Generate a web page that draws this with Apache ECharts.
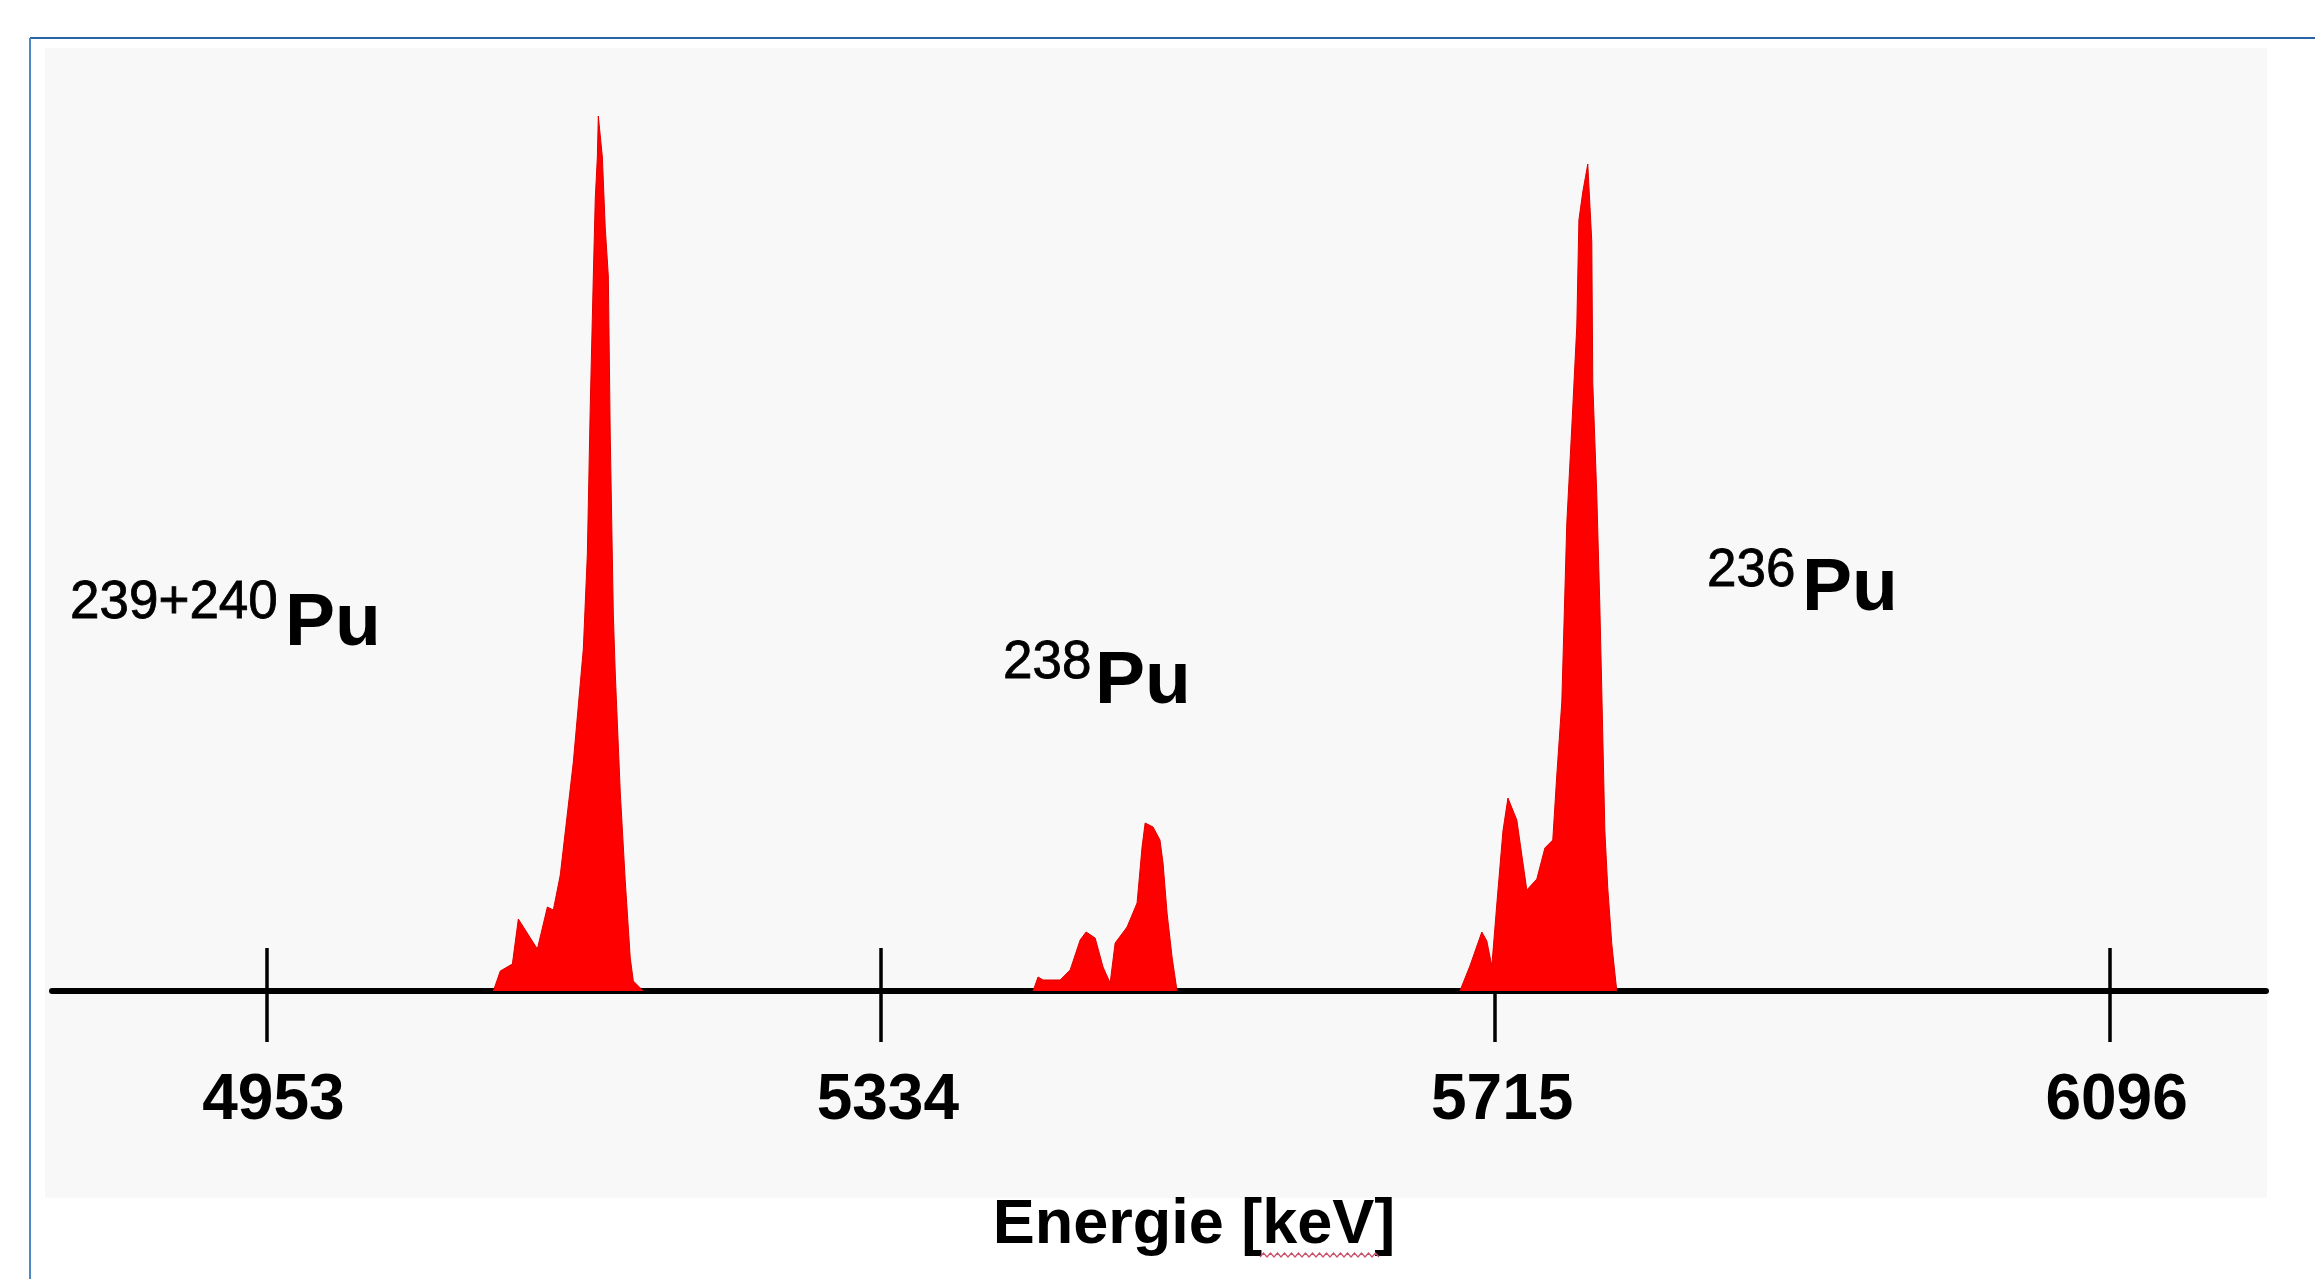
<!DOCTYPE html>
<html>
<head>
<meta charset="utf-8">
<title>Pu alpha spectrum</title>
<script src="https://cdn.jsdelivr.net/npm/echarts/dist/echarts.min.js"></script>
<style>
  html, body { margin: 0; padding: 0; background: #fff; }
  #chart { width: 2315px; height: 1279px; }
</style>
</head>
<body>
<div id="chart"></div>
<script>
// energy ticks on the axis (keV)
var tickValues = [4953, 5334, 5715, 6096]

// 239+240Pu peak
var pu239Energy = [5093.7, 5098.0, 5105.5, 5109.2, 5121.0, 5127.2, 5130.9, 5135.2, 5143.3, 5149.5, 5152.0, 5153.8, 5155.7, 5156.9, 5158.2, 5158.8, 5161.3, 5163.1, 5165.0, 5166.2, 5168.1, 5169.3, 5172.4, 5175.5, 5178.6, 5180.5, 5186.7]
var pu239Counts = [0, 20, 27, 72, 42, 84, 81, 116, 229, 342, 437, 585, 715, 792, 834, 875, 834, 763, 715, 555, 377, 318, 199, 110, 33, 10, 0]

// 238Pu peak
var pu238Energy = [5428.4, 5431.5, 5434.6, 5445.2, 5451.4, 5457.6, 5461.3, 5466.9, 5471.8, 5476.2, 5479.3, 5486.7, 5492.9, 5496.0, 5497.9, 5502.8, 5507.1, 5509.0, 5511.5, 5514.6, 5517.7]
var pu238Counts = [0, 14, 11, 11, 21, 51, 59, 53, 24, 8, 48, 64, 88, 144, 168, 164, 151, 128, 78, 34, 0]

// 236Pu peak (tracer)
var pu236Energy = [5693.1, 5699.3, 5706.7, 5709.8, 5712.9, 5716.0, 5719.8, 5722.9, 5728.4, 5734.6, 5740.8, 5745.8, 5750.7, 5753.2, 5756.3, 5759.4, 5762.5, 5765.6, 5766.9, 5769.3, 5772.4, 5774.9, 5775.5, 5778.0, 5779.9, 5781.1, 5783.0, 5784.8, 5787.3, 5790.4]
var pu236Counts = [0, 25, 59, 50, 25, 87, 160, 193, 171, 101, 112, 143, 151, 216, 289, 468, 564, 665, 771, 799, 827, 749, 608, 496, 384, 300, 160, 103, 47, 0]

var FONT = '"Liberation Sans", Arial, Helvetica, sans-serif'

function pairs(xs, ys) {
    return xs.map(function (x, i) { return [x, ys[i]] })
}

function peakSeries(name, xs, ys) {
    return {
        name: name,
        type: 'line',
        symbol: 'none',
        smooth: false,
        z: 3,
        lineStyle: { color: '#e00000', width: 1 },
        areaStyle: { color: '#ff0000', opacity: 1 },
        data: pairs(xs, ys)
    }
}

// isotope label: superscript mass number + "Pu"
function isoLabel(mass, x, y, puX, puY) {
    return [
        {
            type: 'text', x: x, y: y, z: 100,
            style: { text: mass, font: 'normal 53px ' + FONT, fill: '#000', stroke: '#000', lineWidth: 0.8, textAlign: 'left', textVerticalAlign: 'middle' }
        },
        {
            type: 'text', x: puX, y: puY, z: 100,
            style: { text: 'Pu', font: 'bold 75px ' + FONT, fill: '#000', textAlign: 'left', textVerticalAlign: 'middle' }
        }
    ]
}

// red spell-check squiggle under "keV"
var squiggle = []
for (var sx = 1260; sx <= 1382; sx += 3.5) {
    squiggle.push([sx, (Math.round((sx - 1260) / 3.5) % 2) ? 1253 : 1257])
}

var chart = echarts.init(document.getElementById('chart'))

chart.setOption({
    backgroundColor: '#ffffff',
    animation: false,
    grid: {
        left: 52,
        right: 49,
        top: 91,
        bottom: 288,
        outerBoundsMode: 'none'
    },
    xAxis: [
        {
            type: 'value',
            min: 4820,
            max: 6193,
            position: 'bottom',
            splitLine: { show: false },
            axisLine: { show: true, onZero: false, lineStyle: { color: '#000', width: 6 } },
            axisTick: { show: true, customValues: tickValues, length: 51, lineStyle: { color: '#000', width: 3.5 } },
            axisLabel: {
                show: true,
                customValues: tickValues,
                margin: 78,
                padding: [0, 0, 0, 14],
                fontFamily: FONT,
                fontSize: 64,
                fontWeight: 'bold',
                color: '#000',
                formatter: function (v) { return String(v) }
            }
        },
        {
            // second copy of the scale only to draw the upper half of the ticks
            type: 'value',
            min: 4820,
            max: 6193,
            position: 'bottom',
            splitLine: { show: false },
            axisLine: { show: false },
            axisTick: { show: true, inside: true, customValues: tickValues, length: 43, lineStyle: { color: '#000', width: 3.5 } },
            axisLabel: { show: false }
        }
    ],
    yAxis: {
        type: 'value',
        min: 0,
        max: 900,
        show: false,
        splitLine: { show: false }
    },
    series: [
        peakSeries('239+240Pu', pu239Energy, pu239Counts),
        peakSeries('238Pu', pu238Energy, pu238Counts),
        peakSeries('236Pu', pu236Energy, pu236Counts)
    ],
    graphic: [
        // grey plot panel
        { type: 'rect', z: -100, shape: { x: 45, y: 48, width: 2222, height: 1150 }, style: { fill: '#f8f8f8' } },
        // blue frame
        { type: 'line', z: -90, shape: { x1: 30, y1: 38, x2: 2315, y2: 38 }, style: { stroke: '#2a62a6', lineWidth: 2 } },
        { type: 'line', z: -90, shape: { x1: 30, y1: 38, x2: 30, y2: 1279 }, style: { stroke: '#4f88c6', lineWidth: 2 } },
        // axis title
        {
            type: 'text', x: 1194, y: 1226, z: 100,
            style: { text: 'Energie [keV]', font: 'bold 63px ' + FONT, fill: '#000', textAlign: 'center', textVerticalAlign: 'middle' }
        },
        { type: 'polyline', z: 100, shape: { points: squiggle }, style: { stroke: '#c8506a', lineWidth: 1.2, fill: null } }
    ]
        .concat(isoLabel('239+240', 70, 603, 285, 624))
        .concat(isoLabel('238', 1003, 663, 1095, 682))
        .concat(isoLabel('236', 1707, 571, 1802, 589))
})
</script>
</body>
</html>
